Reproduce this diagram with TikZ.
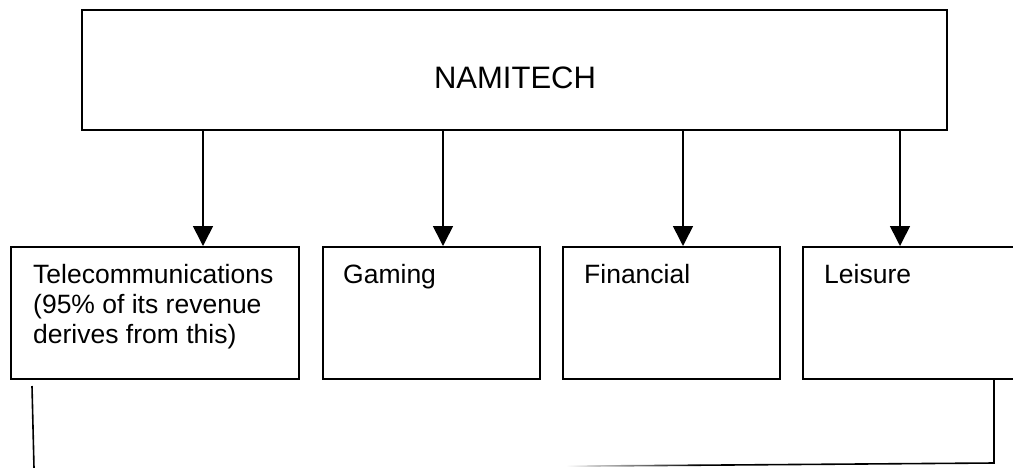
\documentclass[tikz,border=0pt]{standalone}
\usepackage{fontspec}
\setmainfont{Liberation Sans}
\usetikzlibrary{arrows.meta}
\begin{document}
\begin{tikzpicture}[x=1pt,y=-1pt,
  box/.style={draw=black,line width=1.6pt,fill=white},
  lbl/.style={anchor=base west,inner sep=0pt,align=left,font=\fontsize{26.5}{30}\selectfont},
  conn/.style={line width=1.6pt,-{Triangle[length=20pt,width=20pt]}},
  link/.style={line width=1.6pt}]
\useasboundingbox (0,0) rectangle (1013,467);
% top box
\draw[box] (82,10) rectangle (947,130);
\node[anchor=base,inner sep=0pt,font=\fontsize{31}{36}\selectfont] (top) at (515,88) {NAMITECH};
\coordinate (t1) at (203,130);
\coordinate (t2) at (443,130);
\coordinate (t3) at (683,130);
\coordinate (t4) at (900,130);
% lower boxes
\node[box,minimum width=288pt,minimum height=132pt,anchor=north west,inner sep=0pt] (tel) at (10,246) {};
\node[box,minimum width=217pt,minimum height=132pt,anchor=north west,inner sep=0pt] (gam) at (322,246) {};
\node[box,minimum width=217pt,minimum height=132pt,anchor=north west,inner sep=0pt] (fin) at (562,246) {};
\node[box,minimum width=216pt,minimum height=132pt,anchor=north west,inner sep=0pt] (lei) at (802,246) {};
\node[lbl] (telT) at (33,343) {Telecommunications\\(95\% of its revenue\\derives from this)};
\node[lbl] (gamT) at (343,283) {Gaming};
\node[lbl] (finT) at (584,283) {Financial};
\node[lbl] (leiT) at (824,283) {Leisure};
% arrows
\draw[conn] (t1) -- (t1 |- tel.north);
\draw[conn] (t2) -- (t2 |- gam.north);
\draw[conn] (t3) -- (t3 |- fin.north);
\draw[conn] (t4) -- (t4 |- lei.north);
% bottom lines
\coordinate (la) at (32,386);
\coordinate (lb) at (34,468);
\draw[link] (la) -- (lb);
\coordinate (ra) at (994,378);
\coordinate (rb) at (994,463);
\coordinate (rc) at (700,465.2);
\draw[link] (ra) -- (rb) -- (rc);
\shade[left color=white,right color=black] (566,465.4) -- (700,464.4) -- (700,466) -- (566,467) -- cycle;
\end{tikzpicture}
\end{document}
